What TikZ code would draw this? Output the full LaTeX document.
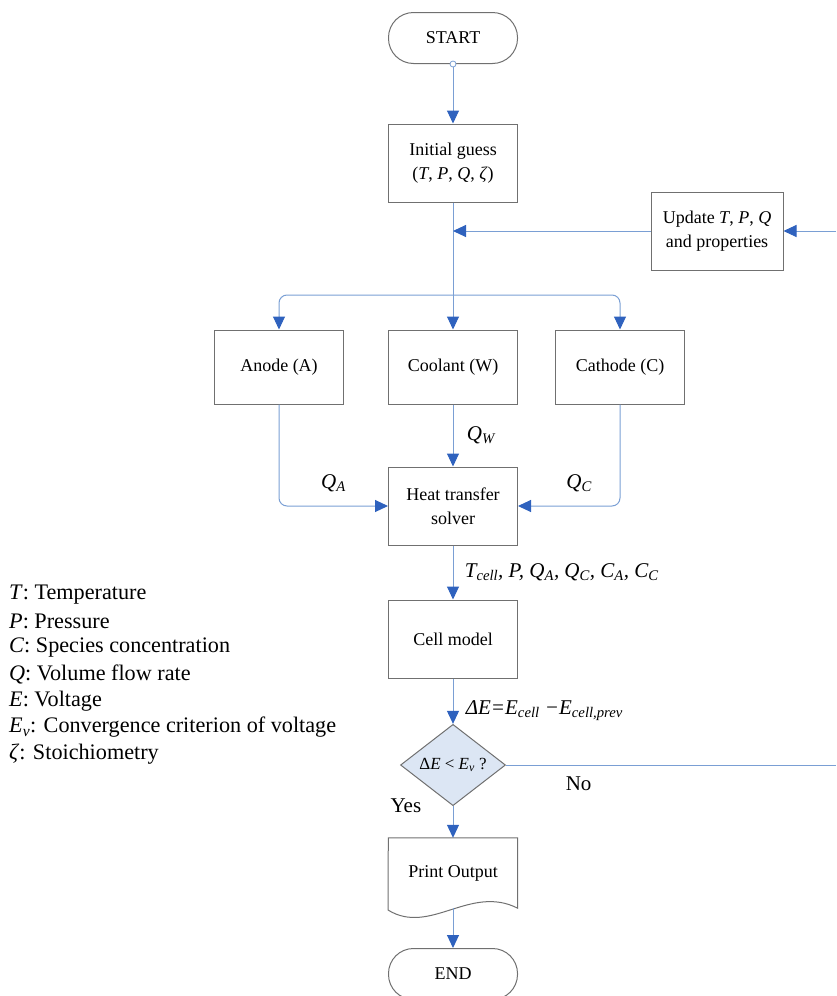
\documentclass[tikz,border=0pt]{standalone}
\usepackage{fontspec}
\setmainfont{Liberation Serif}
\usepackage{xcolor}
\definecolor{lineblue}{HTML}{7A9FD4}
\definecolor{tipblue}{HTML}{2F62BE}
\definecolor{boxgray}{HTML}{707070}
\definecolor{diafill}{HTML}{DCE6F4}
\usepackage{tikz}
\usetikzlibrary{arrows.meta,shapes.geometric,positioning}

\newcommand{\isub}[2]{\textit{#1}\textsubscript{\textit{#2}}}

\begin{document}
\begin{tikzpicture}[x=1pt, y=-1pt,
  font=\fontsize{18}{24}\selectfont,
  flowbox/.style={draw=boxgray, line width=1pt, minimum width=129pt, minimum height=78pt, align=center, inner sep=2pt},
  terminal/.style={draw=boxgray, line width=1pt, rounded corners=25pt, minimum width=129pt, minimum height=51pt},
  decision/.style={diamond, draw=boxgray, fill=diafill, line width=1pt, minimum width=105pt, minimum height=75pt, inner sep=0pt, font=\fontsize{17}{20}\selectfont},
  flow/.style={draw=lineblue, line width=1pt, -{Triangle[color=tipblue, length=13pt, width=12pt]}},
  flowlabel/.style={font=\fontsize{21}{24}\selectfont\itshape},
  legend/.style={anchor=west, inner sep=0pt, font=\fontsize{22.2}{24}\selectfont}]
  \useasboundingbox (0,0) rectangle (836,996);

  \node[terminal] (start) at (453,38) {START};
  \node[flowbox] (guess) at (453,163) {Initial guess\\(\textit{T}, \textit{P}, \textit{Q}, \textit{ζ})};
  \node[flowbox, minimum width=132pt] (update) at (717,231) {Update \textit{T}, \textit{P}, \textit{Q}\\and properties};
  \node[flowbox, minimum height=74pt] (anode)   at (279,367) {Anode (A)};
  \node[flowbox, minimum height=74pt] (coolant) at (453,367) {Coolant (W)};
  \node[flowbox, minimum height=74pt] (cathode) at (620,367) {Cathode (C)};
  \node[flowbox] (solver) at (453,506) {Heat transfer\\solver};
  \node[flowbox] (cell)   at (453,639) {Cell model};
  \node[decision] (check) at (453,765) {Δ\textit{E} < \isub{E}{v} ?};
  \node[minimum width=129pt, minimum height=70pt] (output) at (453,873) {Print Output};
  \node[terminal] (stop) at (453,974) {END};

  \draw[boxgray, line width=1pt] (output.south east) -- (output.north east) -- (output.north west) -- (388,910)
    .. controls (430,936) and (470,884) .. (output.south east) -- cycle;

  \coordinate (split)   at (453,295);
  \coordinate (loopin)  at (836,231);
  \coordinate (loopout) at (836,765);

  \node[circle, draw=lineblue, fill=white, line width=0.8pt, inner sep=0pt, minimum size=6pt] (startdot) at (start.south) {};
  \draw[flow] (startdot) -- (guess);
  \draw[flow] (guess) -- (coolant);
  \draw[flow] (loopin) -- (update);
  \draw[flow] (update.west) -- (update.west -| guess.south);
  \draw[flow, rounded corners=8pt] (split) -| (anode);
  \draw[flow, rounded corners=8pt] (split) -| (cathode);
  \draw[flow, rounded corners=8pt] (anode) |- node[flowlabel, pos=0.75, above=10pt] {Q\textsubscript{A}} (solver);
  \draw[flow, rounded corners=8pt] (cathode) |- node[flowlabel, pos=0.7, above=10pt] {Q\textsubscript{C}} (solver);
  \draw[flow] (coolant) -- node[flowlabel, right=10pt] {Q\textsubscript{W}} (solver);
  \draw[flow] (solver) -- node[flowlabel, right=8pt] {T\textsubscript{cell}, P, Q\textsubscript{A}, Q\textsubscript{C}, C\textsubscript{A}, C\textsubscript{C}} (cell);
  \draw[flow] (cell) -- node[flowlabel, pos=0.7, right=9pt] {ΔE=E\textsubscript{cell} −E\textsubscript{cell,prev}} (check);
  \draw[draw=lineblue, line width=1pt] (check) -- node[pos=0.22, below=8pt, font=\fontsize{21}{24}\selectfont] {No} (loopout);
  \draw[flow] (check) -- node[pos=0, left=28pt, font=\fontsize{21}{24}\selectfont] {Yes} (output);
  \draw[flow] (output.south) -- (stop);

  \foreach \y/\sym/\desc [count=\i] in {
    595/T/Temperature,
    621.5/P/Pressure,
    648/C/Species concentration,
    674.5/Q/Volume flow rate,
    701/E/Voltage,
    727.5/{E\textsubscript{v}}/Convergence criterion of voltage,
    754/ζ/Stoichiometry
  }{
    \node[legend] (leg\i) at (9,\y) {\textit{\sym}: \desc};
  }
\end{tikzpicture}
\end{document}
